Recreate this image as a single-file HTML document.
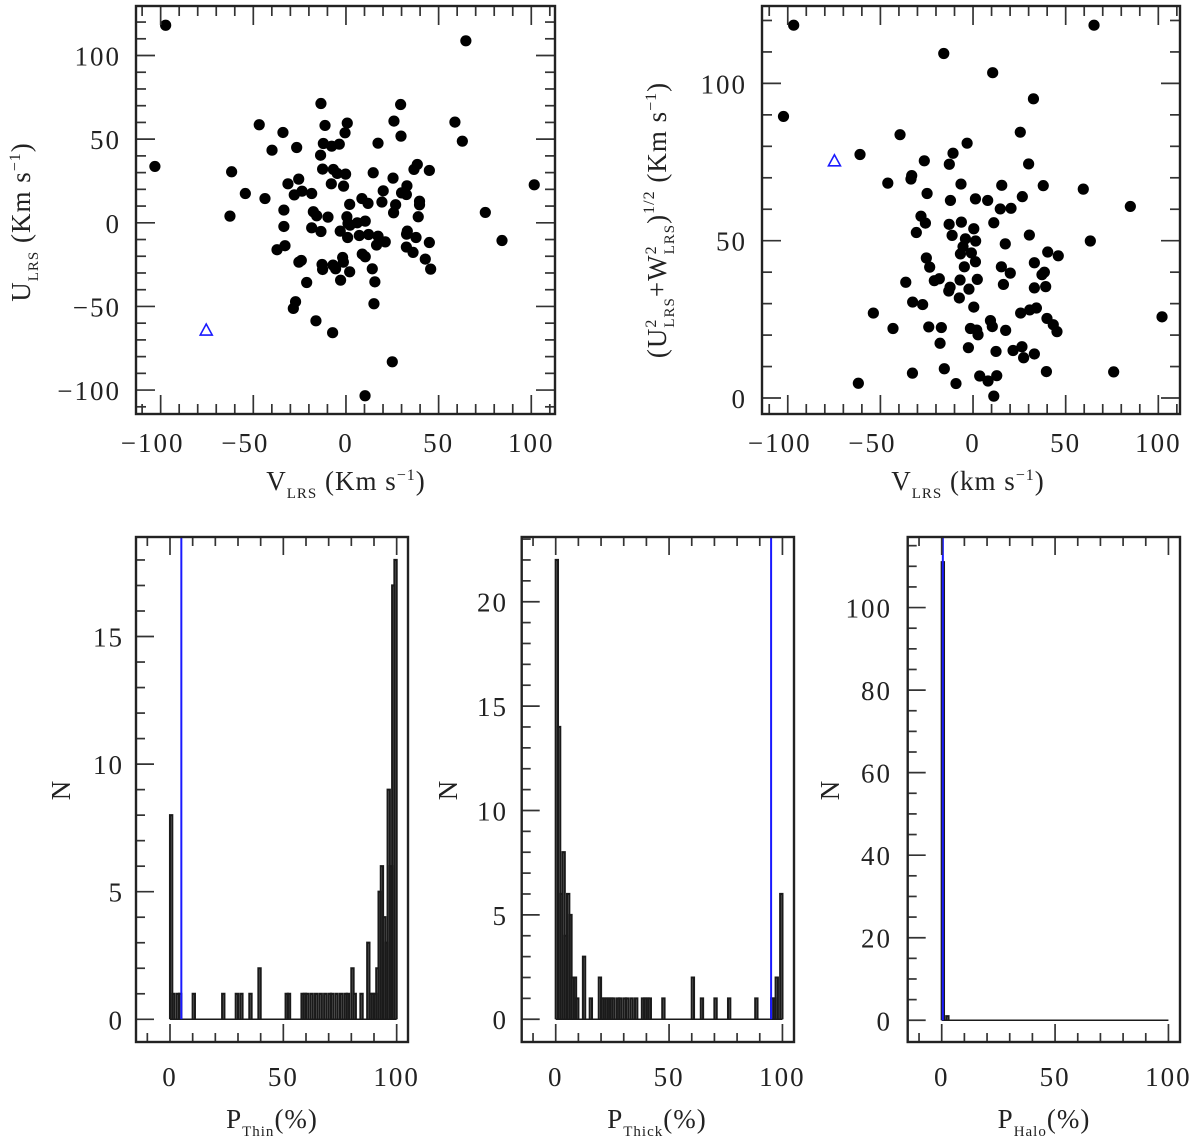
<!DOCTYPE html>
<html><head><meta charset="utf-8">
<style>
html,body{margin:0;padding:0;background:#fff;}
svg{display:block;font-family:"Liberation Serif","DejaVu Serif",serif;}
.tl{font-size:27px;fill:#222;letter-spacing:2px;}
.ttl{font-size:27px;fill:#222;letter-spacing:1px;}
</style></head>
<body>
<svg id="fig" width="1200" height="1141" viewBox="0 0 1200 1141" xmlns="http://www.w3.org/2000/svg">
<g id="layer"></g>
<text class="ttl" x="346" y="490" text-anchor="middle">V<tspan font-size="15" dy="8">LRS</tspan><tspan dy="-8"> (Km s</tspan><tspan font-size="16" dy="-10">−1</tspan><tspan dy="10">)</tspan></text>
<text class="ttl" transform="translate(30,222) rotate(-90)" text-anchor="middle">U<tspan font-size="15" dy="8">LRS</tspan><tspan dy="-8"> (Km s</tspan><tspan font-size="16" dy="-10">−1</tspan><tspan dy="10">)</tspan></text>
<text class="ttl" x="968" y="490" text-anchor="middle">V<tspan font-size="15" dy="8">LRS</tspan><tspan dy="-8"> (km s</tspan><tspan font-size="16" dy="-10">−1</tspan><tspan dy="10">)</tspan></text>
<text class="ttl" transform="translate(666,220) rotate(-90)" text-anchor="middle">(U<tspan font-size="16" dy="-10">2</tspan><tspan font-size="15" dx="-9" dy="18">LRS</tspan><tspan dy="-8">+W</tspan><tspan font-size="16" dy="-10">2</tspan><tspan font-size="15" dx="-9" dy="18">LRS</tspan><tspan dy="-8">)</tspan><tspan font-size="16" dy="-12">1/2</tspan><tspan dy="12"> (Km s</tspan><tspan font-size="16" dy="-10">−1</tspan><tspan dy="10">)</tspan></text>
<text class="ttl" x="272" y="1128" text-anchor="middle">P<tspan font-size="15" dy="8">Thin</tspan><tspan dy="-8">(%)</tspan></text>
<text class="ttl" x="657" y="1128" text-anchor="middle">P<tspan font-size="15" dy="8">Thick</tspan><tspan dy="-8">(%)</tspan></text>
<text class="ttl" x="1044" y="1128" text-anchor="middle">P<tspan font-size="15" dy="8">Halo</tspan><tspan dy="-8">(%)</tspan></text>
<text class="ttl" transform="translate(70,790) rotate(-90)" text-anchor="middle">N</text>
<text class="ttl" transform="translate(457,790) rotate(-90)" text-anchor="middle">N</text>
<text class="ttl" transform="translate(839,790) rotate(-90)" text-anchor="middle">N</text>
</svg>
<script>
// ---- data ----
const uvV = [-97.3,64.7,-13.5,29.5,-46.8,-11.3,0.7,25.9,58.8,-34.0,-0.5,29.7,62.8,-39.9,-26.6,-12.2,-7.7,-3.6,17.3,-13.7,-103.1,-61.7,-12.6,-6.8,-0.2,-4.7,14.7,25.4,36.7,38.5,45.0,-31.3,-25.5,-7.9,-1.3,32.9,101.6,-54.3,-27.9,-23.7,-18.5,20.1,30.0,32.6,-43.7,8.6,11.9,2.0,19.4,26.8,39.7,39.7,-33.5,-17.6,-15.8,-9.7,0.5,25.7,39.0,75.2,-62.6,-33.5,-18.5,-13.5,-3.1,1.1,10.4,6.1,2.2,0.9,7.2,12.2,17.3,21.2,16.5,33.1,32.7,37.8,45.0,84.2,-37.2,-32.9,-25.4,-24.1,-12.9,-12.6,-7.0,-5.6,-1.8,-1.4,2.0,8.8,10.4,14.2,-2.9,15.6,32.6,36.2,42.8,45.7,-21.2,-27.2,-28.4,15.1,-16.2,-7.2,25.0,10.3];
const uvU = [118.1,108.8,71.3,70.7,58.6,58.2,59.6,60.8,60.2,54.0,53.8,51.8,48.8,43.4,45.0,47.4,45.8,47.0,47.6,40.4,33.7,30.5,32.1,31.9,29.1,29.5,29.9,26.7,31.9,34.9,31.3,23.3,26.1,23.3,21.9,22.1,22.7,17.5,16.7,18.9,17.5,19.1,17.9,16.9,14.5,14.5,11.6,11.0,12.4,10.8,12.9,10.8,7.6,6.6,4.2,3.4,3.6,6.0,3.6,6.2,4.0,-2.2,-3.0,-5.2,-5.0,-0.4,1.0,0,-1.4,-8.8,-7.6,-7.0,-8.0,-11.4,-13.3,-5.0,-6.8,-8.8,-11.8,-10.6,-16.1,-13.7,-23.5,-22.5,-24.9,-27.9,-25.3,-27.5,-20.7,-23.5,-29.3,-18.7,-20.3,-27.5,-34.3,-35.3,-14.5,-17.7,-21.7,-27.7,-35.7,-47.2,-51.2,-48.4,-58.6,-65.7,-83.1,-103.4];
const uvSpecialV = [-75.4];
const uvSpecialU = [-64.1];

const toomreV = [-96.8,65.3,-15.8,10.6,32.6,-102.3,-39.4,25.5,-3.2,-61.0,-10.8,-26.3,-12.8,30.0,-33.1,-33.5,-46.0,-6.5,15.5,37.9,59.5,-24.8,-12.2,1.3,7.9,26.6,14.7,20.5,84.9,-28.1,-25.7,-12.9,-6.3,0.4,11.2,-30.6,-11.3,-4.1,1.4,17.4,30.4,63.3,-5.4,-6.8,-0.9,1.3,40.3,46.0,-25.2,-23.4,-4.7,15.3,20.1,33.1,37.2,38.5,-36.3,-20.9,-18.2,-7.0,2.3,16.4,-12.4,-13.1,-2.2,33.1,39.2,-7.4,-32.6,-27.2,0.4,25.7,30.6,34.2,-53.8,39.9,43.3,45.3,102.0,-43.2,-23.9,-17.1,-1.4,2.0,2.7,9.4,10.4,17.6,-17.8,-2.5,12.4,21.6,26.4,27.3,33.1,-32.7,-15.5,3.6,8.1,12.8,39.6,75.9,-61.9,-9.2,11.2];
const toomreUW = [118.5,118.5,109.5,103.4,95.1,89.5,83.7,84.5,81.0,77.4,77.8,75.4,74.3,74.4,70.7,69.6,68.3,68.0,67.6,67.5,66.4,65.0,62.8,63.3,62.8,64.0,60.1,60.3,60.9,57.8,55.6,55.2,55.9,53.8,55.7,52.6,51.7,50.6,49.9,49.0,51.8,49.9,48.1,45.8,46.1,43.3,46.4,45.2,44.5,41.6,41.7,41.7,39.7,43.0,39.2,40.0,36.8,37.3,37.9,37.5,37.7,36.1,35.2,34.0,34.6,35.0,35.4,31.8,30.5,29.7,28.9,27.0,28.0,28.6,27.0,25.3,23.3,21.1,25.8,22.1,22.6,22.4,22.1,21.6,20.1,24.6,22.7,21.5,17.4,16.0,14.8,15.1,16.3,12.8,14.0,7.9,9.3,7.0,5.4,7.1,8.4,8.3,4.7,4.6,0.6];
const toomreSpecialV = [-74.8];
const toomreSpecialUW = [75.4];

const thinBins   = [0,1,3,4,10,23,29,31,35,39,51,52,58,59,60,62,64,66,68,70,71,73,75,77,78,80,81,84,87,88,89,90,91,92,93,94,95,96,97,98,99];
const thinCounts = [8,1,1,1,1,1,1,1,1,2,1,1,1,1,1,1,1,1,1,1,1,1,1,1,1,2,1,1,3,1,1,1,2,5,6,4,3,9,6,17,18];
const thinMark = [5];

const thickBins   = [0,1,2,3,4,5,6,7,8,9,12,15,19,20,21,22,23,24,25,27,28,30,31,33,35,38,39,40,41,47,60,64,70,76,88,95,96,97,99];
const thickCounts = [22,14,6,8,4,6,5,2,2,1,3,1,2,1,1,1,1,1,1,1,1,1,1,1,1,1,1,1,1,1,2,1,1,1,1,1,1,2,6];
const thickMark = [95];

const haloBins   = [0,2];
const haloCounts = [111,1];
const haloMark = [0.5];

const xTicksUV = [-100,-50,0,50,100];
const yTicksUV = [-100,-50,0,50,100];
const xTicksT = [-100,-50,0,50,100];
const yTicksT = [0,50,100];
const xTicksH = [0,50,100];
const yTicksThin = [0,5,10,15];
const yTicksThick = [0,5,10,15,20];
const yTicksHalo = [0,20,40,60,80,100];

// ---- helpers ----
const NS = 'http://www.w3.org/2000/svg';
const layer = document.getElementById('layer');
function mk(tag, attrs, parent){
  const e = document.createElementNS(NS, tag);
  for (const k in attrs) e.setAttribute(k, attrs[k]);
  (parent||layer).appendChild(e);
  return e;
}
function panel(name, L, R, T, B, xd, yd){
  const g = mk('g', {});
  
  
  const sx = v => L + (v - xd[0]) / (xd[1] - xd[0]) * (R - L);
  const sy = v => B - (v - yd[0]) / (yd[1] - yd[0]) * (B - T);
  return {g, L, R, T, B, sx, sy};
}
function ticks(p, axis, minorStep, majorStep, lo, hi, sides, majLen, minLen){
  const tg = mk('g', {stroke:'#333','stroke-width':1.7}, p.g);
  
  
  const start = Math.ceil(lo/minorStep)*minorStep;
  for (let v = start; v <= hi + 1e-9; v += minorStep){
    const isMaj = Math.abs(v/majorStep - Math.round(v/majorStep)) < 1e-6;
    const len = isMaj ? majLen : minLen;
    if (axis === 'x'){
      const x = p.sx(v);
      if (x < p.L + 1 || x > p.R - 1) continue;
      if (sides.includes('b')) mk('line', {x1:x, y1:p.B, x2:x, y2:p.B-len}, tg);
      if (sides.includes('t')) mk('line', {x1:x, y1:p.T, x2:x, y2:p.T+len}, tg);
    } else {
      const y = p.sy(v);
      if (y < p.T + 1 || y > p.B - 1) continue;
      if (sides.includes('l')) mk('line', {x1:p.L, y1:y, x2:p.L+len, y2:y}, tg);
      if (sides.includes('r')) mk('line', {x1:p.R, y1:y, x2:p.R-len, y2:y}, tg);
    }
  }
}
function frame(p){
  const r = mk('rect', {x:p.L, y:p.T, width:p.R-p.L, height:p.B-p.T, fill:'none', stroke:'#222','stroke-width':2.4}, p.g);
  
  
}
function fmt(v){ return v < 0 ? '−' + Math.abs(v) : String(v); }
function xLabels(p, vals, y){
  vals.forEach(v => {
    const t = mk('text', {class:'tl', x:p.sx(v) + (v<0?-8:0), y:y, 'text-anchor':'middle'}, p.g);
    
    
    t.textContent = fmt(v);
  });
}
function yLabels(p, vals, x){
  vals.forEach(v => {
    const t = mk('text', {class:'tl', x:x, y:p.sy(v) + 10, 'text-anchor':'end'}, p.g);
    
    
    t.textContent = fmt(v);
  });
}
function dots(p, xs, ys){
  const dg = mk('g', {fill:'#000'}, p.g);
  
  
  xs.forEach((v,i) => {
    const c = mk('circle', {cx:p.sx(v), cy:p.sy(ys[i]), r:5.6}, dg);
    
    
  });
}
function tri(p, xs, ys){
  xs.forEach((v,i) => {
    const x = p.sx(v), y = p.sy(ys[i]);
    const t = mk('polygon', {points:`${x},${y-6} ${x-6},${y+5} ${x+6},${y+5}`, fill:'none', stroke:'#1a1aff','stroke-width':1.6}, p.g);
    
    
  });
}
function hist(p, bins, counts, mark){
  const hg = mk('g', {fill:'none', stroke:'#1a1a1a','stroke-width':2.1}, p.g);
  
  
  const base = mk('line', {x1:p.sx(0), y1:p.sy(0), x2:p.sx(100), y2:p.sy(0), 'stroke-width':1.5}, hg);
  
  
  bins.forEach((b,i) => {
    const x0 = p.sx(b), x1 = p.sx(b+1), y = p.sy(counts[i]), y0 = p.sy(0);
    const bar = mk('path', {d:`M${x0},${y0} L${x0},${y} L${x1},${y} L${x1},${y0}`}, hg);
    
    
  });
  mark.forEach(m => {
    const l = mk('line', {x1:p.sx(m), y1:p.T, x2:p.sx(m), y2:p.sy(0), stroke:'#1a1aff','stroke-width':2}, p.g);
    
    
  });
}

// ---- panel 1: U vs V ----
const p1 = panel('uv-scatter-panel', 136, 555, 6, 414, [-113.3,112.8], [-114.3,129.6]);
dots(p1, uvV, uvU); tri(p1, uvSpecialV, uvSpecialU);
ticks(p1,'x',10,50,-120,120,'bt',19,10); ticks(p1,'y',10,50,-120,130,'lr',19,10);
frame(p1); xLabels(p1, xTicksUV, 452); yLabels(p1, yTicksUV, 121);

// ---- panel 2: Toomre ----
const p2 = panel('toomre-scatter-panel', 762, 1180, 6, 414, [-113.9,111.7], [-5.08,124.6]);
dots(p2, toomreV, toomreUW); tri(p2, toomreSpecialV, toomreSpecialUW);
ticks(p2,'x',10,50,-120,120,'bt',19,10); ticks(p2,'y',10,50,0,130,'lr',19,10);
frame(p2); xLabels(p2, xTicksT, 452); yLabels(p2, yTicksT, 747);

// ---- panel 3: thin ----
const p3 = panel('thin-histogram-panel', 136, 408, 537, 1042, [-15,105], [-0.89,18.9]);
hist(p3, thinBins, thinCounts, thinMark);
ticks(p3,'x',10,50,-10,100,'bt',18,9); ticks(p3,'y',1,5,0,18,'l',18,9);
frame(p3); xLabels(p3, xTicksH, 1086); yLabels(p3, yTicksThin, 124);

// ---- panel 4: thick ----
const p4 = panel('thick-histogram-panel', 521.7, 794, 537, 1042, [-15.0,105.1], [-1.09,23.1]);
hist(p4, thickBins, thickCounts, thickMark);
ticks(p4,'x',10,50,-10,100,'bt',18,9); ticks(p4,'y',1,5,0,23,'l',18,9);
frame(p4); xLabels(p4, xTicksH, 1086); yLabels(p4, yTicksThick, 508);

// ---- panel 5: halo ----
const p5 = panel('halo-histogram-panel', 907.7, 1180, 537, 1042, [-15.0,105.1], [-5.27,117.1]);
hist(p5, haloBins, haloCounts, haloMark);
ticks(p5,'x',10,50,-10,100,'bt',18,9); ticks(p5,'y',5,20,0,115,'l',18,9);
frame(p5); xLabels(p5, xTicksH, 1086); yLabels(p5, yTicksHalo, 892);
</script>
</body></html>
